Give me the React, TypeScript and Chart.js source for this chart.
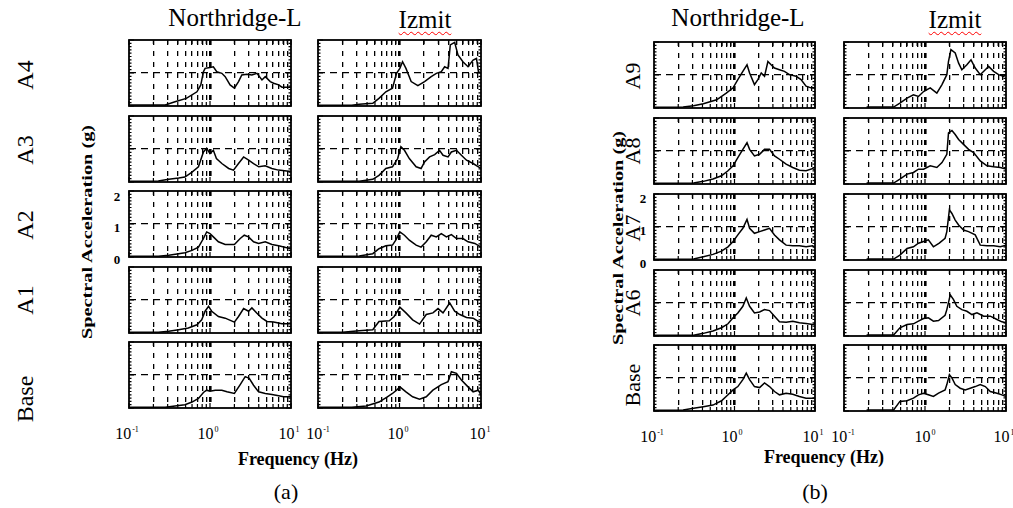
import React, { useEffect, useRef } from "react";
import { Chart, registerables } from "chart.js";

Chart.register(...registerables);

// ---------- labels ----------
const columnTitles = ["Northridge-L", "Izmit"];
const groupARows = ["A4", "A3", "A2", "A1", "Base"];
const groupBRows = ["A9", "A8", "A7", "A6", "Base"];
const yTickLabels = ["2", "1", "0"];
const xTickExponents = ["-1", "0", "1"];
const yAxisTitle = "Spectral Acceleration (g)";
const xAxisTitle = "Frequency (Hz)";
const groupCaptions = ["(a)", "(b)"];

// grid / tick values
const xGridValues = [0.1, 0.2, 0.3, 0.4, 0.5, 0.6, 0.7, 0.8, 0.9, 1, 2, 3, 4, 5, 6, 7, 8, 9, 10];
const yGridValues = [0, 1, 2];
const yMinorTicks = [0, 0.1, 0.2, 0.3, 0.4, 0.5, 0.6, 0.7, 0.8, 0.9, 1, 1.1, 1.2, 1.3, 1.4, 1.5, 1.6, 1.7, 1.8, 1.9, 2];

// ---------- data: group (a), Northridge-L ----------
const aNrA4Freq = [0.1, 0.28, 0.37, 0.51, 0.69, 0.77, 0.83, 0.87, 1.0, 1.1, 1.21, 1.4, 1.54, 1.77, 2.0, 2.25, 2.47, 2.85, 3.29, 3.8, 4.38, 4.81, 5.55, 6.1, 7.04, 7.74, 10];
const aNrA4Sa = [0.03, 0.03, 0.13, 0.23, 0.43, 0.64, 1.04, 1.14, 1.17, 1.19, 1.04, 0.99, 0.89, 0.64, 0.54, 0.74, 0.94, 0.96, 0.94, 0.99, 0.79, 0.89, 0.74, 0.69, 0.64, 0.57, 0.57];
const aNrA3Freq = [0.1, 0.23, 0.31, 0.41, 0.49, 0.6, 0.72, 0.83, 0.91, 1.0, 1.1, 1.2, 1.4, 1.7, 1.95, 2.25, 2.6, 3.0, 3.45, 4.0, 4.8, 5.8, 7.0, 10];
const aNrA3Sa = [0.02, 0.03, 0.08, 0.12, 0.15, 0.3, 0.46, 0.91, 1.02, 0.86, 0.96, 0.71, 0.56, 0.41, 0.36, 0.56, 0.76, 0.66, 0.56, 0.46, 0.49, 0.41, 0.36, 0.32];
const aNrA2Freq = [0.1, 0.23, 0.31, 0.41, 0.49, 0.6, 0.72, 0.83, 0.91, 1.0, 1.1, 1.27, 1.54, 2.0, 2.36, 2.65, 2.99, 3.45, 3.98, 4.81, 5.82, 7.04, 10];
const aNrA2Sa = [0.02, 0.02, 0.05, 0.1, 0.13, 0.2, 0.3, 0.56, 0.76, 0.71, 0.61, 0.46, 0.38, 0.38, 0.56, 0.66, 0.61, 0.46, 0.41, 0.46, 0.38, 0.34, 0.25];
const aNrA1Freq = [0.1, 0.23, 0.31, 0.41, 0.54, 0.69, 0.79, 0.87, 0.96, 1.05, 1.27, 1.54, 2.0, 2.25, 2.6, 2.99, 3.29, 3.8, 4.38, 5.05, 6.1, 7.74, 10];
const aNrA1Sa = [0.02, 0.02, 0.05, 0.1, 0.15, 0.25, 0.4, 0.66, 0.81, 0.66, 0.5, 0.45, 0.33, 0.5, 0.74, 0.66, 0.76, 0.6, 0.45, 0.35, 0.33, 0.28, 0.28];
const aNrBaseFreq = [0.1, 0.28, 0.37, 0.49, 0.6, 0.72, 0.83, 0.91, 1.0, 1.16, 1.4, 1.62, 2.0, 2.36, 2.72, 3.05, 3.45, 3.98, 4.81, 5.82, 7.04, 8.1, 10];
const aNrBaseSa = [0.02, 0.02, 0.06, 0.1, 0.18, 0.29, 0.47, 0.54, 0.51, 0.54, 0.54, 0.49, 0.44, 0.71, 0.95, 0.9, 0.69, 0.49, 0.44, 0.41, 0.37, 0.34, 0.34];

// ---------- data: group (a), Izmit ----------
const aIzA4Freq = [0.1, 0.26, 0.32, 0.47, 0.56, 0.68, 0.82, 0.92, 1.01, 1.09, 1.2, 1.39, 1.68, 2.03, 2.45, 2.83, 3.26, 3.58, 3.94, 4.2, 4.75, 5.22, 6.0, 6.93, 8.0, 8.8, 9.3, 10];
const aIzA4Sa = [0.02, 0.02, 0.05, 0.08, 0.23, 0.43, 0.54, 0.99, 1.14, 1.34, 1.14, 0.74, 0.62, 0.74, 0.89, 0.99, 1.04, 1.19, 1.14, 1.85, 1.93, 1.55, 1.34, 1.19, 1.39, 1.44, 1.04, 0.99];
const aIzA3Freq = [0.1, 0.2, 0.32, 0.47, 0.56, 0.68, 0.82, 0.95, 1.04, 1.15, 1.32, 1.6, 1.84, 2.03, 2.34, 2.7, 3.1, 3.42, 3.94, 4.33, 5.0, 5.75, 6.64, 8.0, 9.3, 10];
const aIzA3Sa = [0.02, 0.02, 0.02, 0.08, 0.2, 0.41, 0.46, 0.71, 1.07, 0.96, 0.71, 0.46, 0.41, 0.61, 0.76, 0.83, 0.96, 0.81, 0.76, 0.91, 0.96, 0.81, 0.66, 0.56, 0.46, 0.41];
const aIzA2Freq = [0.1, 0.2, 0.32, 0.47, 0.56, 0.68, 0.82, 0.9, 1.01, 1.15, 1.32, 1.6, 1.84, 2.13, 2.45, 2.83, 3.26, 3.76, 4.33, 5.0, 6.0, 6.93, 8.4, 10];
const aIzA2Sa = [0.02, 0.02, 0.03, 0.1, 0.25, 0.34, 0.36, 0.51, 0.76, 0.66, 0.51, 0.36, 0.3, 0.46, 0.66, 0.61, 0.71, 0.61, 0.68, 0.56, 0.56, 0.46, 0.41, 0.3];
const aIzA1Freq = [0.1, 0.2, 0.32, 0.47, 0.56, 0.75, 0.86, 1.01, 1.2, 1.45, 1.76, 2.13, 2.57, 2.97, 3.42, 4.13, 4.75, 5.5, 6.64, 8.0, 9.3, 10];
const aIzA1Sa = [0.02, 0.02, 0.07, 0.1, 0.35, 0.37, 0.5, 0.78, 0.61, 0.4, 0.27, 0.56, 0.61, 0.74, 0.61, 0.91, 0.66, 0.56, 0.47, 0.45, 0.35, 0.33];
const aIzBaseFreq = [0.1, 0.26, 0.39, 0.56, 0.71, 0.82, 0.92, 1.01, 1.2, 1.45, 1.76, 2.13, 2.57, 3.26, 3.94, 4.33, 5.0, 5.75, 6.93, 8.0, 9.3, 10];
const aIzBaseSa = [0.02, 0.02, 0.06, 0.18, 0.34, 0.44, 0.54, 0.64, 0.49, 0.34, 0.27, 0.34, 0.54, 0.71, 0.8, 1.1, 1.05, 0.85, 0.64, 0.49, 0.54, 0.39];

// ---------- data: group (b), Northridge-L ----------
const bNrA9Freq = [0.1, 0.23, 0.31, 0.41, 0.6, 0.79, 0.96, 1.1, 1.27, 1.43, 1.54, 1.77, 1.95, 2.15, 2.36, 2.6, 2.85, 3.14, 3.62, 4.17, 4.81, 5.82, 6.71, 7.74, 8.9, 10];
const bNrA9Sa = [0.02, 0.03, 0.07, 0.13, 0.25, 0.45, 0.61, 0.86, 1.11, 1.31, 1.06, 0.71, 0.86, 1.06, 0.96, 1.41, 1.31, 1.21, 1.16, 1.11, 1.01, 0.96, 0.86, 0.66, 0.61, 0.61];
const bNrA8Freq = [0.1, 0.31, 0.41, 0.54, 0.69, 0.83, 0.96, 1.1, 1.27, 1.43, 1.54, 1.77, 2.05, 2.36, 2.72, 3.14, 3.62, 4.38, 5.29, 6.4, 7.74, 9.36, 10];
const bNrA8Sa = [0.02, 0.03, 0.08, 0.15, 0.25, 0.4, 0.55, 0.8, 1.05, 1.25, 1.05, 0.85, 0.9, 1.05, 1.05, 0.85, 0.75, 0.6, 0.5, 0.42, 0.4, 0.47, 0.42];
const bNrA7Freq = [0.1, 0.31, 0.41, 0.54, 0.69, 0.83, 0.96, 1.1, 1.27, 1.43, 1.54, 1.77, 2.05, 2.36, 2.72, 3.14, 3.62, 4.38, 5.29, 6.4, 7.74, 9.36, 10];
const bNrA7Sa = [0.02, 0.03, 0.1, 0.17, 0.27, 0.4, 0.56, 0.76, 0.96, 1.23, 0.96, 0.81, 0.86, 0.91, 0.96, 0.76, 0.61, 0.45, 0.43, 0.43, 0.4, 0.43, 0.37];
const bNrA6Freq = [0.1, 0.31, 0.41, 0.54, 0.69, 0.83, 0.96, 1.1, 1.27, 1.4, 1.54, 1.77, 2.05, 2.36, 2.72, 3.14, 3.62, 4.38, 5.29, 6.4, 7.74, 9.36, 10];
const bNrA6Sa = [0.02, 0.02, 0.08, 0.15, 0.25, 0.37, 0.55, 0.7, 0.9, 1.15, 0.9, 0.7, 0.73, 0.8, 0.77, 0.6, 0.43, 0.42, 0.45, 0.4, 0.38, 0.35, 0.37];
const bNrBaseFreq = [0.1, 0.23, 0.31, 0.41, 0.54, 0.69, 0.83, 0.96, 1.1, 1.27, 1.4, 1.54, 1.77, 2.05, 2.36, 2.72, 3.14, 3.62, 4.38, 5.29, 6.4, 7.74, 9.36, 10];
const bNrBaseSa = [0.02, 0.03, 0.08, 0.13, 0.18, 0.31, 0.49, 0.64, 0.74, 0.95, 1.15, 0.95, 0.74, 0.71, 0.85, 0.74, 0.59, 0.49, 0.54, 0.51, 0.44, 0.39, 0.39, 0.39];

// ---------- data: group (b), Izmit ----------
const bIzA9Freq = [0.19, 0.41, 0.49, 0.6, 0.72, 0.83, 0.96, 1.16, 1.4, 1.62, 1.86, 1.95, 2.09, 2.36, 2.6, 2.85, 3.29, 3.7, 4.17, 4.81, 5.55, 6.1, 7.04, 8.1, 9.36, 10];
const bIzA9Sa = [0.03, 0.03, 0.15, 0.3, 0.4, 0.35, 0.5, 0.61, 0.45, 0.71, 1.01, 1.41, 1.77, 1.67, 1.36, 1.16, 1.31, 1.46, 1.21, 1.01, 1.16, 1.26, 1.11, 1.01, 0.96, 1.01];
const bIzA8Freq = [0.19, 0.41, 0.49, 0.6, 0.72, 0.83, 0.96, 1.16, 1.4, 1.62, 1.86, 1.95, 2.15, 2.36, 2.6, 2.99, 3.45, 3.98, 4.81, 5.82, 7.04, 8.5, 10];
const bIzA8Sa = [0.03, 0.03, 0.15, 0.3, 0.35, 0.45, 0.45, 0.55, 0.5, 0.65, 0.9, 1.55, 1.62, 1.5, 1.35, 1.2, 1.05, 0.95, 0.7, 0.55, 0.52, 0.5, 0.45];
const bIzA7Freq = [0.19, 0.41, 0.49, 0.6, 0.72, 0.83, 0.96, 1.1, 1.27, 1.5, 1.77, 1.86, 2.0, 2.15, 2.36, 2.6, 2.99, 3.45, 4.17, 4.81, 5.82, 7.04, 8.5, 10];
const bIzA7Sa = [0.03, 0.03, 0.15, 0.35, 0.4, 0.51, 0.56, 0.61, 0.4, 0.51, 0.66, 0.86, 1.52, 1.41, 1.21, 1.06, 0.91, 0.86, 0.76, 0.45, 0.43, 0.43, 0.4, 0.45];
const bIzA6Freq = [0.19, 0.41, 0.49, 0.6, 0.72, 0.83, 0.96, 1.1, 1.27, 1.47, 1.77, 1.86, 2.05, 2.25, 2.47, 2.85, 3.29, 3.8, 4.38, 5.3, 6.4, 7.74, 8.9, 10];
const bIzA6Sa = [0.03, 0.03, 0.25, 0.35, 0.37, 0.45, 0.53, 0.55, 0.45, 0.47, 0.63, 0.8, 1.25, 1.1, 0.9, 0.8, 0.75, 0.65, 0.7, 0.6, 0.6, 0.5, 0.43, 0.4];
const bIzBaseFreq = [0.19, 0.41, 0.49, 0.6, 0.72, 0.83, 0.96, 1.1, 1.27, 1.47, 1.77, 1.86, 2.0, 2.15, 2.36, 2.72, 3.14, 3.62, 4.17, 4.81, 5.55, 6.4, 7.74, 8.9, 10];
const bIzBaseSa = [0.03, 0.03, 0.29, 0.31, 0.39, 0.49, 0.54, 0.49, 0.44, 0.54, 0.64, 0.8, 1.1, 1.0, 0.8, 0.69, 0.64, 0.69, 0.74, 0.8, 0.74, 0.59, 0.54, 0.49, 0.44];

// ---------- layout ----------
const PAD = 3;
const PANEL_H = 66;
const aRowTops = [40, 116, 191, 267, 342];
const bRowTops = [42, 118, 194, 270, 345];
const aCols = [{ left: 129, width: 162 }, { left: 318, width: 163 }];
const bCols = [{ left: 654, width: 161 }, { left: 844, width: 162 }];

const serif = '"Liberation Serif", "Times New Roman", Times, serif';

const boxPlugin = {
  id: "panelBox",
  afterDraw(chart: any) {
    const { ctx, chartArea: a, scales } = chart;
    ctx.save();
    ctx.setLineDash([]);
    ctx.strokeStyle = "#000";
    ctx.lineWidth = 1.2;
    ctx.beginPath();
    for (const v of xGridValues) {
      const px = scales.x.getPixelForValue(v);
      const len = v === 0.1 || v === 1 || v === 10 ? 5 : 4;
      ctx.moveTo(px, a.top);
      ctx.lineTo(px, a.top + len);
      ctx.moveTo(px, a.bottom);
      ctx.lineTo(px, a.bottom - len);
    }
    for (const v of yMinorTicks) {
      const py = scales.y.getPixelForValue(v);
      const len = Number.isInteger(v) ? 5 : 2.5;
      ctx.moveTo(a.left, py);
      ctx.lineTo(a.left + len, py);
      ctx.moveTo(a.right, py);
      ctx.lineTo(a.right - len, py);
    }
    ctx.stroke();
    ctx.lineWidth = 1.8;
    ctx.strokeRect(a.left, a.top, a.right - a.left, a.bottom - a.top);
    ctx.restore();
  },
};

function Panel({ left, top, width, freq, sa }: { left: number; top: number; width: number; freq: number[]; sa: number[] }) {
  const ref = useRef<HTMLCanvasElement | null>(null);
  useEffect(() => {
    const chart = new Chart(ref.current as HTMLCanvasElement, {
      type: "line",
      data: {
        datasets: [
          {
            data: freq.map((f, i) => ({ x: f, y: sa[i] })),
            borderColor: "#000",
            borderWidth: 1.5,
            pointRadius: 0,
            tension: 0,
            fill: false,
          },
        ],
      },
      options: {
        animation: false,
        responsive: false,
        events: [],
        layout: { padding: PAD },
        plugins: { legend: { display: false }, tooltip: { enabled: false } },
        scales: {
          x: {
            type: "logarithmic",
            min: 0.1,
            max: 10,
            afterBuildTicks: (s: any) => {
              s.ticks = xGridValues.map((v) => ({ value: v }));
            },
            ticks: { display: false },
            border: { display: false, dash: [5, 6] },
            grid: {
              drawTicks: false,
              color: (c: any) => (c.tick && (c.tick.value === 0.1 || c.tick.value === 10) ? "rgba(0,0,0,0)" : "#000"),
              lineWidth: (c: any) => (c.tick && c.tick.value === 1 ? 2.6 : 1.3),
            },
          },
          y: {
            type: "linear",
            min: 0,
            max: 2,
            afterBuildTicks: (s: any) => {
              s.ticks = yGridValues.map((v) => ({ value: v }));
            },
            ticks: { display: false },
            border: { display: false, dash: [7, 5] },
            grid: {
              drawTicks: false,
              color: (c: any) => (c.tick && c.tick.value === 1 ? "#000" : "rgba(0,0,0,0)"),
              lineWidth: 1.3,
            },
          },
        },
      } as any,
      plugins: [boxPlugin],
    });
    return () => chart.destroy();
  }, []);
  return (
    <canvas
      ref={ref}
      width={width + 2 * PAD}
      height={PANEL_H + 2 * PAD}
      style={{ position: "absolute", left: left - PAD, top: top - PAD, width: width + 2 * PAD, height: PANEL_H + 2 * PAD }}
    />
  );
}

function Txt({ x, y, size, bold, rotate, stretch, children, style }: any) {
  return (
    <div
      style={{
        position: "absolute",
        left: x,
        top: y,
        transform: `translate(-50%, -50%)${rotate ? " rotate(-90deg)" : ""}${stretch ? ` scaleX(${stretch})` : ""}`,
        fontFamily: serif,
        fontSize: size,
        fontWeight: bold ? "bold" : "normal",
        lineHeight: 1,
        whiteSpace: "nowrap",
        color: "#000",
        ...style,
      }}
    >
      {children}
    </div>
  );
}

function Pow({ x, y, exp }: { x: number; y: number; exp: string }) {
  return (
    <Txt x={x} y={y} size={16}>
      10
      <span style={{ fontSize: 8, position: "relative", top: -7, marginLeft: 1 }}>{exp}</span>
    </Txt>
  );
}

const aData = [
  [[aNrA4Freq, aNrA4Sa], [aIzA4Freq, aIzA4Sa]],
  [[aNrA3Freq, aNrA3Sa], [aIzA3Freq, aIzA3Sa]],
  [[aNrA2Freq, aNrA2Sa], [aIzA2Freq, aIzA2Sa]],
  [[aNrA1Freq, aNrA1Sa], [aIzA1Freq, aIzA1Sa]],
  [[aNrBaseFreq, aNrBaseSa], [aIzBaseFreq, aIzBaseSa]],
];
const bData = [
  [[bNrA9Freq, bNrA9Sa], [bIzA9Freq, bIzA9Sa]],
  [[bNrA8Freq, bNrA8Sa], [bIzA8Freq, bIzA8Sa]],
  [[bNrA7Freq, bNrA7Sa], [bIzA7Freq, bIzA7Sa]],
  [[bNrA6Freq, bNrA6Sa], [bIzA6Freq, bIzA6Sa]],
  [[bNrBaseFreq, bNrBaseSa], [bIzBaseFreq, bIzBaseSa]],
];

export default function App() {
  const panels: any[] = [];
  aData.forEach((row, r) =>
    row.forEach(([f, s], c) =>
      panels.push(<Panel key={`a${r}${c}`} left={aCols[c].left} top={aRowTops[r]} width={aCols[c].width} freq={f} sa={s} />)
    )
  );
  bData.forEach((row, r) =>
    row.forEach(([f, s], c) =>
      panels.push(<Panel key={`b${r}${c}`} left={bCols[c].left} top={bRowTops[r]} width={bCols[c].width} freq={f} sa={s} />)
    )
  );

  const aRowLabelY = [75, 150, 225, 300, 399];
  const bRowLabelY = [76, 151, 228, 303, 385];
  const izmitStyle = { textDecoration: "underline wavy red", textDecorationThickness: 1, textUnderlineOffset: 3 };

  return (
    <div style={{ position: "absolute", left: 0, top: 0, width: 1013, height: 508, background: "#fff", overflow: "hidden" }}>
      {panels}
      {/* column titles */}
      <Txt x={235} y={17} size={25}>{columnTitles[0]}</Txt>
      <Txt x={425} y={19} size={25} style={izmitStyle}>{columnTitles[1]}</Txt>
      <Txt x={738} y={17} size={25}>{columnTitles[0]}</Txt>
      <Txt x={955} y={19} size={25} style={izmitStyle}>{columnTitles[1]}</Txt>
      {/* row labels */}
      {groupARows.map((t, i) => (
        <Txt key={"ar" + i} x={25} y={aRowLabelY[i]} size={24} rotate>{t}</Txt>
      ))}
      {groupBRows.map((t, i) => (
        <Txt key={"br" + i} x={633} y={bRowLabelY[i]} size={22} rotate>{t}</Txt>
      ))}
      {/* y axis titles */}
      <Txt x={88} y={232} size={14} bold rotate stretch={1.45}>{yAxisTitle}</Txt>
      <Txt x={619} y={238} size={14} bold rotate stretch={1.45}>{yAxisTitle}</Txt>
      {/* y tick labels */}
      {yTickLabels.map((t, i) => (
        <Txt key={"ay" + i} x={117} y={[196, 227, 259][i]} size={13} bold>{t}</Txt>
      ))}
      {yTickLabels.map((t, i) => (
        <Txt key={"by" + i} x={643} y={[198, 230, 263][i]} size={13} bold>{t}</Txt>
      ))}
      {/* x tick labels */}
      {[127, 208, 289, 318, 398, 480].map((x, i) => (
        <Pow key={"ax" + i} x={x} y={434} exp={xTickExponents[i % 3]} />
      ))}
      {[652, 732, 813, 843, 925, 1004].map((x, i) => (
        <Pow key={"bx" + i} x={x} y={437} exp={xTickExponents[i % 3]} />
      ))}
      {/* x axis titles */}
      <Txt x={298} y={459} size={18} bold>{xAxisTitle}</Txt>
      <Txt x={824} y={457} size={18} bold>{xAxisTitle}</Txt>
      {/* captions */}
      <Txt x={286} y={492} size={22}>{groupCaptions[0]}</Txt>
      <Txt x={815} y={492} size={22}>{groupCaptions[1]}</Txt>
    </div>
  );
}
